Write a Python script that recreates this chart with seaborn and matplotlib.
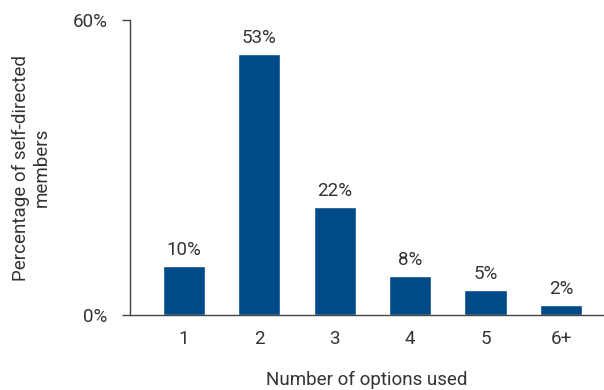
import matplotlib
matplotlib.use("Agg")
import matplotlib.pyplot as plt
import seaborn as sns
import pandas as pd

categories = ["1", "2", "3", "4", "5", "6+"]
shares = [10, 53, 22, 8, 5, 2]
value_labels = ["10%", "53%", "22%", "8%", "5%", "2%"]
y_ticks = [0, 60]
y_tick_labels = ["0%", "60%"]

df = pd.DataFrame({"options": categories, "share": shares})

sns.set_theme(style="white")
plt.rcParams["font.family"] = ["Roboto", "DejaVu Sans"]
text_color = "#333333"
bar_color = "#004A87"
fs = 13.5

fig = plt.figure(figsize=(6.04, 3.9), dpi=100)
ax = fig.add_axes([0.2152, 0.1923, 0.7848, 0.7564])

sns.barplot(data=df, x="options", y="share", color=bar_color,
            saturation=1, width=0.56, ax=ax)

for patch, lab in zip(ax.patches, value_labels):
    ax.annotate(lab, (patch.get_x() + patch.get_width() / 2, patch.get_height()),
                xytext=(0, 5), textcoords="offset points",
                ha="center", va="bottom", fontsize=fs, color=text_color)

ax.set_ylim(0, 60)
ax.set_xlim(-0.715, 5.57)
ax.set_yticks(y_ticks)
ax.set_yticklabels(y_tick_labels)

for side in ["top", "right"]:
    ax.spines[side].set_visible(False)
for side in ["left", "bottom"]:
    ax.spines[side].set_color("#444444")
    ax.spines[side].set_linewidth(1.0)

ax.tick_params(axis="y", direction="out", length=6, width=1.0, color="#444444",
               pad=10, labelsize=fs, labelcolor=text_color, left=True)
ax.tick_params(axis="x", length=0, pad=11, labelsize=fs, labelcolor=text_color)

ax.set_xlabel("Number of options used", fontsize=fs, color=text_color, labelpad=16)
ax.set_ylabel("Percentage of self-directed\nmembers", fontsize=fs,
              color=text_color, labelpad=16, linespacing=1.15)

fig.savefig("out.png", dpi=100)
